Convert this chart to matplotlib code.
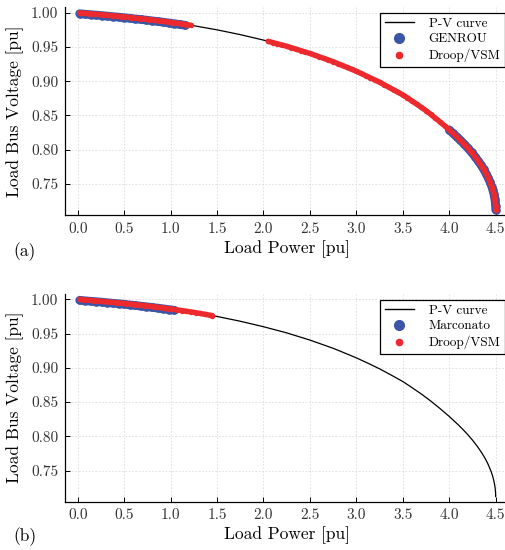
import numpy as np
import matplotlib
matplotlib.use("Agg")
import matplotlib.pyplot as plt
from matplotlib.ticker import FormatStrFormatter
from matplotlib.lines import Line2D

plt.rcParams['font.family'] = 'serif'
plt.rcParams['font.serif'] = ['cmr10']
plt.rcParams['mathtext.fontset'] = 'cm'
plt.rcParams['axes.formatter.use_mathtext'] = True

# P-V curve
# ---------------------------------------------------------------------------
pv_p = [0.00, 0.25, 0.50, 0.75, 1.00, 1.25, 1.50, 1.75, 2.00, 2.25, 2.50,
        2.625, 2.75, 2.875, 3.00, 3.125, 3.25, 3.375, 3.50, 3.60, 3.70,
        3.80, 3.90, 4.00, 4.05, 4.10, 4.15, 4.20, 4.25, 4.30, 4.35, 4.38,
        4.40, 4.42, 4.45, 4.46, 4.47, 4.48, 4.49, 4.495, 4.499, 4.50]
pv_v = [1.0000, 0.9972, 0.9940, 0.9903, 0.9860, 0.9810, 0.9750, 0.9680,
        0.9600, 0.9510, 0.9405, 0.9345, 0.9285, 0.9216, 0.9145, 0.9067,
        0.8985, 0.8894, 0.8800, 0.8710, 0.8617, 0.8516, 0.8406, 0.8290,
        0.8227, 0.8164, 0.8096, 0.8024, 0.7945, 0.7858, 0.7759, 0.7692,
        0.7642, 0.7587, 0.7489, 0.7450, 0.7406, 0.7353, 0.7285, 0.7237,
        0.7172, 0.7120]

# panel (a): GENROU
genrou_p = [0.02, 0.08, 0.14, 0.20, 0.26, 0.32, 0.38, 0.44, 0.50, 0.56,
            0.62, 0.68, 0.74, 0.80, 0.86, 0.92, 0.98, 1.04, 1.10, 1.16,
            4.00, 4.04, 4.08, 4.12, 4.16, 4.20, 4.24, 4.28, 4.31, 4.34,
            4.37, 4.40, 4.42, 4.44, 4.46, 4.47, 4.48, 4.485, 4.49, 4.494,
            4.497, 4.499, 4.50]
genrou_v = [0.9986, 0.9979, 0.9972, 0.9966, 0.9959, 0.9951, 0.9943, 0.9936,
            0.9928, 0.9919, 0.9910, 0.9901, 0.9892, 0.9882, 0.9872, 0.9862,
            0.9851, 0.9840, 0.9828, 0.9816,
            0.8290, 0.8239, 0.8189, 0.8137, 0.8082, 0.8024, 0.7961, 0.7894,
            0.7839, 0.7780, 0.7715, 0.7642, 0.7587, 0.7524, 0.7450, 0.7406,
            0.7353, 0.7322, 0.7285, 0.7248, 0.7210, 0.7172, 0.7120]

# panel (a): Droop/VSM
droop_a_p = [0.02, 0.07, 0.12, 0.17, 0.22, 0.27, 0.32, 0.37, 0.42, 0.47,
             0.52, 0.57, 0.62, 0.67, 0.72, 0.77, 0.82, 0.87, 0.92, 0.97,
             1.02, 1.07, 1.12, 1.17, 1.22,
             2.05, 2.10, 2.15, 2.20, 2.25, 2.30, 2.35, 2.40, 2.45, 2.50,
             2.55, 2.60, 2.65, 2.70, 2.75, 2.80, 2.85, 2.90, 2.95, 3.00,
             3.05, 3.10, 3.15, 3.20, 3.25, 3.30, 3.35, 3.40, 3.45, 3.50,
             3.55, 3.60, 3.65, 3.70, 3.75, 3.80, 3.85, 3.90, 3.95, 4.00,
             4.04, 4.08, 4.12, 4.16, 4.20, 4.24, 4.28, 4.31, 4.34, 4.37,
             4.40, 4.42, 4.44, 4.46, 4.47, 4.48, 4.485, 4.49, 4.494, 4.497,
             4.499, 4.50]
droop_a_v = [0.9998, 0.9992, 0.9987, 0.9981, 0.9975, 0.9969, 0.9963, 0.9957,
             0.9950, 0.9944, 0.9937, 0.9930, 0.9922, 0.9915, 0.9907, 0.9900,
             0.9891, 0.9882, 0.9874, 0.9865, 0.9856, 0.9846, 0.9836, 0.9826,
             0.9816,
             0.9582, 0.9564, 0.9546, 0.9528, 0.9510, 0.9489, 0.9468, 0.9447,
             0.9426, 0.9405, 0.9381, 0.9357, 0.9333, 0.9309, 0.9285, 0.9257,
             0.9229, 0.9201, 0.9173, 0.9145, 0.9113, 0.9081, 0.9049, 0.9017,
             0.8985, 0.8948, 0.8911, 0.8874, 0.8837, 0.8800, 0.8756, 0.8710,
             0.8664, 0.8617, 0.8570, 0.8516, 0.8461, 0.8406, 0.8349, 0.8290,
             0.8239, 0.8189, 0.8137, 0.8082, 0.8024, 0.7961, 0.7894, 0.7839,
             0.7780, 0.7715, 0.7642, 0.7587, 0.7524, 0.7450, 0.7406, 0.7353,
             0.7322, 0.7285, 0.7248, 0.7210, 0.7172, 0.7120]

# panel (b): Marconato
marconato_p = [0.02, 0.08, 0.14, 0.20, 0.26, 0.32, 0.38, 0.44, 0.50, 0.56,
               0.62, 0.68, 0.74, 0.80, 0.86, 0.92, 0.98, 1.04]
marconato_v = [0.9986, 0.9979, 0.9972, 0.9966, 0.9959, 0.9951, 0.9943,
               0.9936, 0.9928, 0.9919, 0.9910, 0.9901, 0.9892, 0.9882,
               0.9872, 0.9862, 0.9851, 0.9840]

# panel (b): Droop/VSM
droop_b_p = [0.02, 0.07, 0.12, 0.17, 0.22, 0.27, 0.32, 0.37, 0.42, 0.47,
             0.52, 0.57, 0.62, 0.67, 0.72, 0.77, 0.82, 0.87, 0.92, 0.97,
             1.02, 1.07, 1.12, 1.17, 1.22, 1.27, 1.32, 1.37, 1.42, 1.45]
droop_b_v = [0.9998, 0.9992, 0.9987, 0.9981, 0.9975, 0.9969, 0.9963, 0.9957,
             0.9950, 0.9944, 0.9937, 0.9930, 0.9922, 0.9915, 0.9907, 0.9900,
             0.9891, 0.9882, 0.9874, 0.9865, 0.9856, 0.9846, 0.9836, 0.9826,
             0.9816, 0.9805, 0.9793, 0.9781, 0.9769, 0.9762]

x_ticks = [0.0, 0.5, 1.0, 1.5, 2.0, 2.5, 3.0, 3.5, 4.0, 4.5]
y_ticks = [0.75, 0.80, 0.85, 0.90, 0.95, 1.00]

BLUE = '#3c56a6'
RED = '#ec2a2e'


def dense_points(ax, p, v, color, size, z):
    # samples are dense in time -> they merge into a band, split on gaps
    p = np.asarray(p)
    v = np.asarray(v)
    cut = np.where(np.diff(p) > 0.3)[0] + 1
    for sp, sv in zip(np.split(p, cut), np.split(v, cut)):
        ax.plot(sp, sv, color=color, lw=size, marker='o', ms=size,
                mew=0, solid_capstyle='round', solid_joinstyle='round',
                zorder=z)


def draw_panel(ax, bp, bv, blabel, rp, rv, tag, tag_y, leg_top):
    ax.plot(pv_p, pv_v, color='black', lw=0.9, zorder=2)
    dense_points(ax, bp, bv, BLUE, 6.2, 3)
    dense_points(ax, rp, rv, RED, 3.9, 4)

    ax.set_xlim(-0.135, 4.635)
    ax.set_ylim(0.7045, 1.0085)
    ax.set_xticks(x_ticks)
    ax.set_yticks(y_ticks)
    ax.xaxis.set_major_formatter(FormatStrFormatter('%.1f'))
    ax.yaxis.set_major_formatter(FormatStrFormatter('%.2f'))
    ax.tick_params(direction='in', length=3.5, width=0.7, labelsize=11,
                   labelcolor='#333333', pad=5)
    ax.grid(True, color='#dcdcdc', lw=0.6, ls=(0, (2, 2)))
    ax.set_axisbelow(True)
    for s in ['top', 'right']:
        ax.spines[s].set_visible(False)
    for s in ['left', 'bottom']:
        ax.spines[s].set_linewidth(0.9)

    ax.set_xlabel('Load Power [pu]', fontsize=12.5, labelpad=3)
    ax.set_ylabel('Load Bus Voltage [pu]', fontsize=12.5, labelpad=5)

    handles = [
        Line2D([], [], color='black', lw=1.0, label='P-V curve'),
        Line2D([], [], ls='none', marker='o', ms=7, color=BLUE,
               label=blabel),
        Line2D([], [], ls='none', marker='o', ms=4.5, color=RED,
               label='Droop/VSM'),
    ]
    leg = ax.legend(handles=handles, loc='upper right',
                    bbox_to_anchor=(505 / 506, 1 - leg_top / 550),
                    bbox_transform=fig.transFigure, fontsize=9.5,
                    frameon=True, fancybox=False, framealpha=1,
                    edgecolor='black', borderpad=0.35, labelspacing=0.25,
                    handlelength=2.2, handletextpad=1.1, borderaxespad=0)
    leg.get_frame().set_linewidth(0.9)

    fig.text(13 / 506, tag_y, tag, fontsize=12.5, va='center', ha='left')


fig = plt.figure(figsize=(5.06, 5.5), dpi=100)
ax1 = fig.add_axes([65.2 / 506, 1 - 215 / 550, 443 / 506, 208.1 / 550])
ax2 = fig.add_axes([65.2 / 506, 1 - 501.7 / 550, 443 / 506, 208.2 / 550])

draw_panel(ax1, genrou_p, genrou_v, 'GENROU', droop_a_p, droop_a_v,
           '(a)', 1 - 252 / 550, 13)
draw_panel(ax2, marconato_p, marconato_v, 'Marconato', droop_b_p, droop_b_v,
           '(b)', 1 - 537 / 550, 300)

fig.savefig('out.png', dpi=100)
